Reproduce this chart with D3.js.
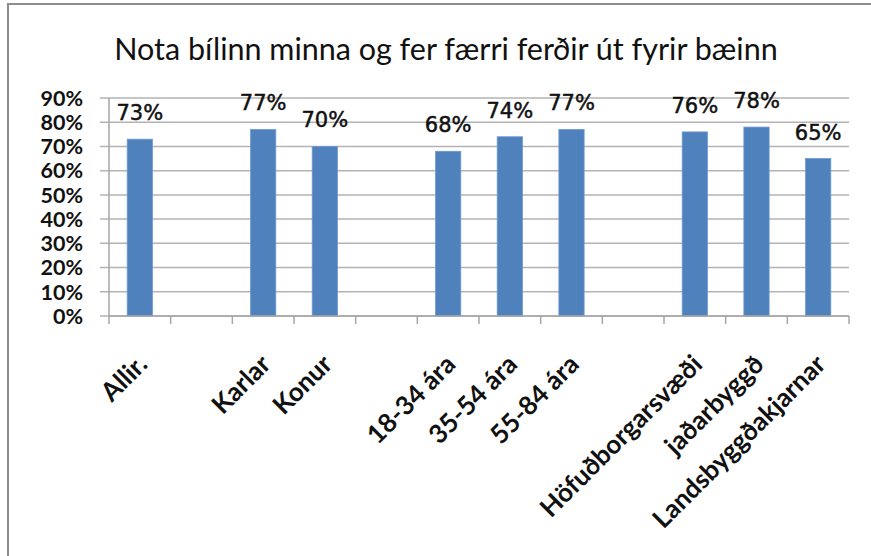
<!DOCTYPE html>
<html>
<head>
<meta charset="utf-8">
<script src="https://cdn.jsdelivr.net/npm/d3@7"></script>
<style>
  body { margin: 0; background: #fff; }
  svg { display: block; }
</style>
</head>
<body>
<div class="viewbox"></div>
<script>
  // slots with empty strings are the gaps between groups
  const categories = ["Allir.", "", "Karlar", "Konur", "", "18-34 ára", "35-54 ára", "55-84 ára",
    "", "Höfuðborgarsvæði", "jaðarbyggð", "Landsbyggðakjarnar"];
  const values = [73, null, 77, 70, null, 68, 74, 77, null, 76, 78, 65];
  const yTicks = [0, 10, 20, 30, 40, 50, 60, 70, 80, 90];
  const title = "Nota bílinn minna og fer færri ferðir út fyrir bæinn";

  const svg_width = 871;
  const svg_height = 556;

  let svg = d3.select(".viewbox")
    .append("svg")
    .attr("width", svg_width)
    .attr("height", svg_height)

  // outer chart frame (only top and left edges show in the crop)
  svg.append("path")
    .attr("d", "M8,556 V4 H871")
    .attr("fill", "none")
    .attr("stroke", "#8c8c8c")
    .attr("stroke-width", 2)

  const plotLeft = 109, plotRight = 849, plotTop = 98, plotBottom = 316;

  let x = d3.scaleBand().domain(d3.range(categories.length)).range([plotLeft, plotRight]).padding(0)
  let y = d3.scaleLinear().domain([0, 90]).range([plotBottom, plotTop])

  // gridlines + y ticks
  svg.append("g")
    .selectAll("line")
    .data(yTicks)
    .enter()
    .append("line")
    .attr("x1", plotLeft - 9)
    .attr("x2", plotRight)
    .attr("y1", d => y(d))
    .attr("y2", d => y(d))
    .attr("stroke", "#b3b3b3")
    .attr("stroke-width", 1.5)

  svg.append("g")
    .selectAll("text")
    .data(yTicks)
    .enter()
    .append("text")
    .attr("x", 83)
    .attr("y", d => y(d))
    .attr("dy", "0.36em")
    .attr("text-anchor", "end")
    .style("font-family", "Lato")
    .style("font-weight", "bold")
    .style("font-size", "21.5px")
    .attr("fill", "#111")
    .text(d => d + "%")

  // bars
  const barW = x.bandwidth() * 0.41;
  let bars = categories.map((c, i) => ({ i: i, v: values[i] })).filter(d => d.v !== null)

  svg.append("g")
    .selectAll("rect")
    .data(bars)
    .enter()
    .append("rect")
    .attr("x", d => x(d.i) + (x.bandwidth() - barW) / 2)
    .attr("y", d => y(d.v))
    .attr("width", barW)
    .attr("height", d => plotBottom - y(d.v))
    .attr("fill", "#4f81bd")
    .attr("stroke", "#6f9ad0")
    .attr("stroke-width", 0.8)

  svg.append("g")
    .selectAll("text")
    .data(bars)
    .enter()
    .append("text")
    .attr("x", d => x(d.i) + x.bandwidth() / 2)
    .attr("y", d => y(d.v) - 19)
    .attr("text-anchor", "middle")
    .style("font-family", "DejaVu Sans")
    .style("font-size", "21px")
    .attr("fill", "#111")
    .attr("stroke", "#111")
    .attr("stroke-width", 0.5)
    .text(d => d.v + "%")

  // axes lines
  svg.append("line")
    .attr("x1", plotLeft).attr("x2", plotLeft)
    .attr("y1", plotTop).attr("y2", plotBottom)
    .attr("stroke", "#a6a6a6").attr("stroke-width", 1.5)

  svg.append("line")
    .attr("x1", plotLeft).attr("x2", plotRight)
    .attr("y1", plotBottom).attr("y2", plotBottom)
    .attr("stroke", "#a6a6a6").attr("stroke-width", 1.5)

  // x ticks at slot boundaries
  let bounds = d3.range(categories.length + 1).map(i => plotLeft + i * x.step())
  svg.append("g")
    .selectAll("line")
    .data(bounds)
    .enter()
    .append("line")
    .attr("x1", d => d).attr("x2", d => d)
    .attr("y1", plotBottom).attr("y2", plotBottom + 8)
    .attr("stroke", "#a6a6a6").attr("stroke-width", 1.5)

  // rotated category labels
  svg.append("g")
    .selectAll("text")
    .data(categories.map((c, i) => ({ c: c, i: i })).filter(d => d.c !== ""))
    .enter()
    .append("text")
    .attr("transform", d => {
      let cx = x(d.i) + x.bandwidth() / 2 + 9;
      return "translate(" + cx + ",366) rotate(-45)"
    })
    .attr("text-anchor", "end")
    .style("font-family", "Lato")
    .style("font-weight", "bold")
    .style("font-size", "26px")
    .attr("fill", "#111")
    .text(d => d.c)

  svg.append("text")
    .attr("x", 446)
    .attr("y", 60)
    .attr("text-anchor", "middle")
    .style("font-family", "Lato")
    .style("font-size", "30.5px")
    .attr("fill", "#111")
    .text(title)
</script>
</body>
</html>
